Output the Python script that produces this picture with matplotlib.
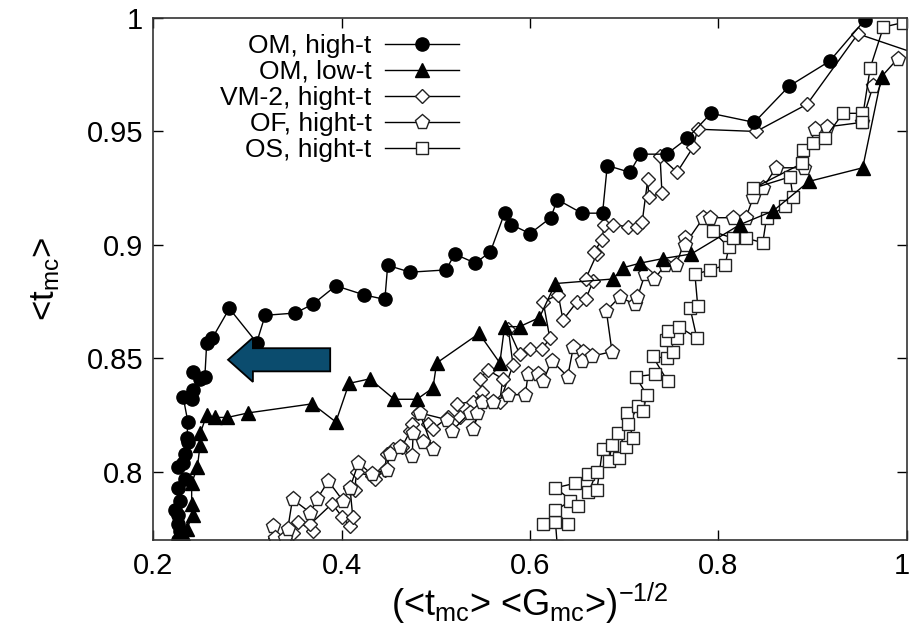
import matplotlib
matplotlib.use('Agg')
import matplotlib.pyplot as plt
import matplotlib.transforms as mtransforms
from matplotlib.patches import FancyArrow

plt.rcParams['font.family'] = ['Liberation Sans', 'DejaVu Sans']
plt.rcParams['mathtext.fontset'] = 'custom'
plt.rcParams['mathtext.rm'] = 'Liberation Sans'
plt.rcParams['mathtext.it'] = 'Liberation Sans:italic'

# OM, high-t (filled circles)
om_high_x = [0.227, 0.229, 0.226, 0.227, 0.223, 0.229, 0.227, 0.234, 0.226, 0.232,
             0.234, 0.237, 0.236, 0.237, 0.232, 0.241, 0.242, 0.250, 0.242, 0.255,
             0.257, 0.263, 0.281, 0.310, 0.319, 0.351, 0.370, 0.394, 0.424, 0.446,
             0.449, 0.473, 0.511, 0.520, 0.542, 0.558, 0.573, 0.580, 0.600, 0.622,
             0.629, 0.655, 0.677, 0.682, 0.706, 0.717, 0.745, 0.767, 0.792, 0.838,
             0.875, 0.918, 0.955]
om_high_y = [0.770, 0.774, 0.777, 0.781, 0.783, 0.787, 0.793, 0.797, 0.802, 0.804,
             0.808, 0.813, 0.815, 0.822, 0.833, 0.832, 0.836, 0.841, 0.844, 0.842,
             0.857, 0.859, 0.872, 0.857, 0.869, 0.870, 0.874, 0.882, 0.878, 0.876,
             0.891, 0.888, 0.889, 0.896, 0.892, 0.897, 0.914, 0.909, 0.905, 0.912,
             0.920, 0.914, 0.914, 0.935, 0.932, 0.940, 0.940, 0.947, 0.958, 0.954,
             0.970, 0.981, 0.999]

# OM, low-t (filled triangles)
om_low_x = [0.234, 0.236, 0.242, 0.241, 0.241, 0.247, 0.250, 0.250, 0.257, 0.266,
            0.279, 0.301, 0.369, 0.394, 0.408, 0.430, 0.456, 0.480, 0.497, 0.501,
            0.546, 0.568, 0.573, 0.589, 0.610, 0.627, 0.688, 0.699, 0.717, 0.741,
            0.771, 0.823, 0.858, 0.896, 0.953, 0.973]
om_low_y = [0.771, 0.775, 0.781, 0.786, 0.795, 0.802, 0.812, 0.817, 0.825, 0.824,
            0.824, 0.826, 0.830, 0.822, 0.839, 0.841, 0.832, 0.832, 0.837, 0.848,
            0.861, 0.848, 0.864, 0.864, 0.868, 0.883, 0.885, 0.890, 0.892, 0.894,
            0.896, 0.909, 0.915, 0.928, 0.934, 0.974]

# VM-2, hight-t (open diamonds)
vm2_x = [0.329, 0.348, 0.354, 0.370, 0.367, 0.390, 0.401, 0.409, 0.412, 0.409,
         0.414, 0.416, 0.432, 0.436, 0.446, 0.448, 0.455, 0.464, 0.473, 0.475,
         0.481, 0.492, 0.497, 0.513, 0.526, 0.523, 0.540, 0.549, 0.547, 0.555,
         0.571, 0.568, 0.582, 0.577, 0.589, 0.600, 0.613, 0.621, 0.614, 0.630,
         0.635, 0.650, 0.659, 0.667, 0.659, 0.671, 0.668, 0.676, 0.679, 0.688,
         0.704, 0.714, 0.719, 0.725, 0.726, 0.740, 0.738, 0.756, 0.773, 0.778,
         0.840, 0.894, 0.948, 1.019]
vm2_y = [0.771, 0.773, 0.778, 0.774, 0.777, 0.786, 0.780, 0.776, 0.780, 0.793,
         0.792, 0.800, 0.798, 0.797, 0.801, 0.808, 0.810, 0.811, 0.818, 0.821,
         0.826, 0.821, 0.819, 0.824, 0.824, 0.830, 0.831, 0.835, 0.841, 0.845,
         0.841, 0.831, 0.847, 0.863, 0.852, 0.854, 0.854, 0.859, 0.875, 0.878,
         0.867, 0.875, 0.876, 0.884, 0.885, 0.896, 0.897, 0.902, 0.909, 0.909,
         0.908, 0.908, 0.910, 0.929, 0.921, 0.923, 0.939, 0.932, 0.943, 0.951,
         0.950, 0.962, 0.993, 0.983]

# OF, hight-t (open pentagons)
of_x = [0.327, 0.329, 0.340, 0.343, 0.348, 0.367, 0.374, 0.386, 0.402, 0.409,
        0.418, 0.432, 0.448, 0.451, 0.462, 0.475, 0.476, 0.486, 0.497, 0.483,
        0.512, 0.517, 0.536, 0.544, 0.540, 0.549, 0.561, 0.577, 0.595, 0.598,
        0.608, 0.614, 0.623, 0.640, 0.646, 0.656, 0.655, 0.666, 0.687, 0.681,
        0.695, 0.711, 0.714, 0.722, 0.732, 0.743, 0.755, 0.765, 0.764, 0.784,
        0.791, 0.815, 0.829, 0.837, 0.847, 0.861, 0.891, 0.902, 0.915, 0.952,
        0.964, 0.990]
of_y = [0.776, 0.771, 0.771, 0.775, 0.788, 0.782, 0.788, 0.796, 0.787, 0.793,
        0.804, 0.799, 0.801, 0.808, 0.811, 0.807, 0.817, 0.813, 0.810, 0.826,
        0.823, 0.818, 0.826, 0.826, 0.819, 0.831, 0.831, 0.834, 0.834, 0.843,
        0.843, 0.840, 0.849, 0.842, 0.855, 0.853, 0.849, 0.851, 0.853, 0.871,
        0.877, 0.874, 0.877, 0.887, 0.885, 0.891, 0.891, 0.903, 0.900, 0.912,
        0.912, 0.912, 0.912, 0.921, 0.925, 0.934, 0.934, 0.951, 0.952, 0.954,
        0.970, 0.982]

# OS, hight-t (open squares)
os_x = [0.629, 0.627, 0.614, 0.640, 0.627, 0.642, 0.651, 0.627, 0.648, 0.662,
        0.671, 0.662, 0.671, 0.677, 0.687, 0.684, 0.694, 0.693, 0.702, 0.709,
        0.703, 0.704, 0.715, 0.720, 0.724, 0.712, 0.733, 0.746, 0.730, 0.745,
        0.752, 0.744, 0.756, 0.746, 0.758, 0.777, 0.770, 0.778, 0.775, 0.791,
        0.807, 0.811, 0.794, 0.815, 0.829, 0.847, 0.851, 0.871, 0.879, 0.876,
        0.837, 0.889, 0.890, 0.900, 0.913, 0.932, 0.952, 0.952, 0.961, 0.975,
        0.996]
os_y = [0.767, 0.778, 0.777, 0.777, 0.783, 0.787, 0.785, 0.793, 0.795, 0.799,
        0.800, 0.791, 0.792, 0.810, 0.812, 0.805, 0.806, 0.817, 0.811, 0.815,
        0.826, 0.821, 0.829, 0.827, 0.834, 0.842, 0.843, 0.840, 0.851, 0.850,
        0.853, 0.858, 0.859, 0.862, 0.864, 0.859, 0.872, 0.873, 0.887, 0.889,
        0.891, 0.899, 0.906, 0.903, 0.903, 0.901, 0.912, 0.917, 0.921, 0.930,
        0.925, 0.936, 0.942, 0.945, 0.947, 0.958, 0.958, 0.954, 0.978, 0.996,
        0.998]

labels = ['OM, high-t', 'OM, low-t', 'VM-2, hight-t', 'OF, hight-t', 'OS, hight-t']
xticks = [0.2, 0.4, 0.6, 0.8, 1.0]
xtick_labels = ['0.2', '0.4', '0.6', '0.8', '1']
yticks = [0.8, 0.85, 0.9, 0.95, 1.0]
ytick_labels = ['0.8', '0.85', '0.9', '0.95', '1']

fig = plt.figure(figsize=(9.13, 6.29), dpi=100)
ax = fig.add_axes([0.1676, 0.1415, 0.8258, 0.8299])

line_kw = dict(color='black', lw=1.0, mew=1.0, clip_on=True)
ax.plot(vm2_x, vm2_y, marker='D', ms=7.5, mfc='white', mec='#222222', label=labels[2], **line_kw)
ax.plot(of_x, of_y, marker='p', ms=11, mfc='white', mec='#222222', label=labels[3], **line_kw)
ax.plot(os_x, os_y, marker='s', ms=8.5, mfc='white', mec='#222222', label=labels[4], **line_kw)
ax.plot(om_low_x, om_low_y, marker='^', ms=10, mfc='black', mec='black', label=labels[1], **line_kw)
ax.plot(om_high_x, om_high_y, marker='o', ms=9.5, mfc='black', mec='black', label=labels[0], **line_kw)

# arrow pointing at the OM high-t knee
ax.add_patch(FancyArrow(0.388, 0.8494, -0.1084, 0, width=0.0102, head_width=0.0195,
                        head_length=0.0264, length_includes_head=True,
                        facecolor='#0b4c6e', edgecolor='black', lw=1.3, zorder=5))

ax.set_xlim(0.2, 1.0)
ax.set_ylim(0.77, 1.0)
ax.set_xticks(xticks)
ax.set_xticklabels(xtick_labels)
ax.set_yticks(yticks)
ax.set_yticklabels(ytick_labels)
ax.tick_params(direction='in', length=7, width=1.0, top=True, right=True,
               labelsize=21)
ax.tick_params(axis='x', pad=9)
ax.tick_params(axis='y', pad=7)
# keep the "1" at the right edge inside the figure
last = ax.get_xticklabels()[-1]
last.set_transform(last.get_transform() +
                   mtransforms.ScaledTranslation(-4 / 72, 0, fig.dpi_scale_trans))
for s in ax.spines.values():
    s.set_linewidth(1.2)
    s.set_color('#333333')

ax.set_xlabel(r'(<t$_{\rm mc}$> <G$_{\rm mc}$>)$^{-1/2}$', fontsize=26, labelpad=0)
ax.set_ylabel(r'<t$_{\rm mc}$>', fontsize=25, labelpad=18)

handles, labs = ax.get_legend_handles_labels()
order = [labs.index(l) for l in labels]
ax.legend([handles[i] for i in order], labels, loc='upper right',
          bbox_to_anchor=(0.43, 1.005), frameon=False, markerfirst=False,
          fontsize=19, labelspacing=0.08, handlelength=2.8, handletextpad=0.5,
          borderpad=0.2)

fig.savefig('out.png', dpi=100)
